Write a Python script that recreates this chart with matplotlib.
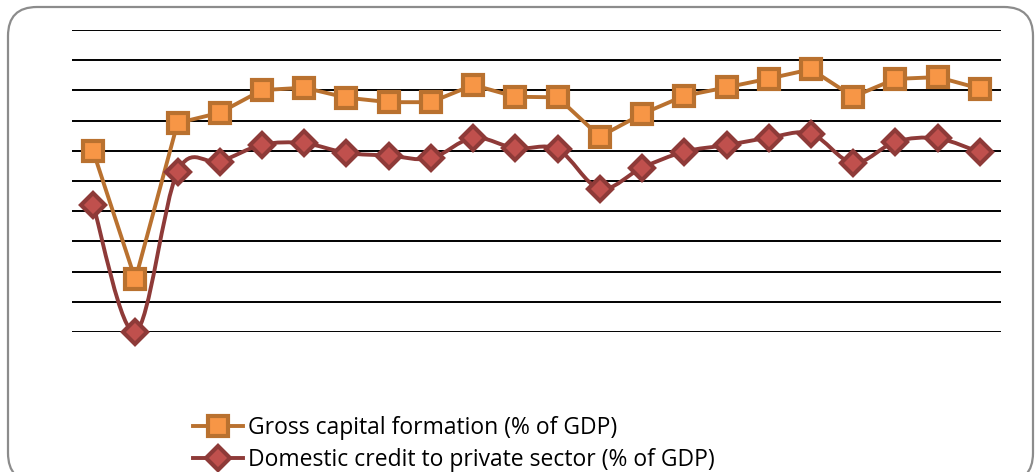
import numpy as np
import matplotlib.pyplot as plt
from matplotlib.path import Path
from matplotlib.patches import PathPatch, FancyBboxPatch
from matplotlib.lines import Line2D

# values (gridline units, no axis labels in the original)
gross_capital = [5.99, 1.74, 6.92, 7.26, 8.01, 8.09, 7.76, 7.61, 7.61, 8.18, 7.79,
                 7.77, 6.47, 7.22, 7.82, 8.10, 8.39, 8.70, 7.79, 8.38, 8.44, 8.06]
domestic_credit = [4.21, 0.0, 5.31, 5.64, 6.20, 6.25, 5.93, 5.84, 5.75, 6.43, 6.08,
                   6.05, 4.75, 5.44, 5.97, 6.19, 6.43, 6.57, 5.60, 6.30, 6.41, 5.95]
labels = ["Gross capital formation (% of GDP)",
          "Domestic credit to private sector (% of GDP)"]

or_line = '#B9712F'
or_fill = '#F79646'
rd_line = '#8E3A38'
rd_fill = '#C0504D'

plt.rcParams['font.family'] = ['Open Sans', 'DejaVu Sans']

W, H = 1035, 472
fig = plt.figure(figsize=(W / 100, H / 100), dpi=100)

# rounded chart border (bottom edge runs off the image)
border = FancyBboxPatch((8 / W, -10 / H), (1033 - 8) / W, (H + 10 - 7) / H,
                        boxstyle="round,pad=0,rounding_size=0.028",
                        transform=fig.transFigure, facecolor='none',
                        edgecolor='#8C8C8C', linewidth=1.6, mutation_aspect=W / H,
                        zorder=-1)
fig.patches.append(border)

ax = fig.add_axes([72 / W, (H - 332) / H, (1001 - 72) / W, (332 - 30) / H])
ax.set_facecolor('none')
x = np.arange(len(gross_capital))

# smoothed line (Excel style) for the credit series
def smooth_path(xs, ys):
    p = np.column_stack([xs, ys]).astype(float)
    verts = [p[0]]
    codes = [Path.MOVETO]
    n = len(p)
    for i in range(n - 1):
        p0 = p[i - 1] if i > 0 else p[i]
        p3 = p[i + 2] if i + 2 < n else p[i + 1]
        c1 = p[i] + (p[i + 1] - p0) / 6
        c2 = p[i + 1] - (p3 - p[i]) / 6
        verts += [c1, c2, p[i + 1]]
        codes += [Path.CURVE4] * 3
    return Path(verts, codes)

ax.plot(x, gross_capital, color=or_line, lw=2.8, marker='s', ms=14,
        mfc=or_fill, mec=or_line, mew=3, clip_on=False, zorder=3)
ax.add_patch(PathPatch(smooth_path(x, domestic_credit), facecolor='none',
                       edgecolor=rd_line, lw=2.8, zorder=3, clip_on=False))
ax.plot(x, domestic_credit, ls='none', marker='D', ms=12,
        mfc=rd_fill, mec=rd_line, mew=3, clip_on=False, zorder=4)

ax.set_xlim(-0.5, len(x) - 0.5)
ax.set_ylim(0, 10)
ax.set_yticks(range(11))
ax.set_xticks([])
ax.tick_params(left=False, labelleft=False)
ax.grid(axis='y', color='black', lw=1.4)
ax.set_axisbelow(True)
for s in ax.spines.values():
    s.set_visible(False)

handles = [
    Line2D([], [], color=or_line, lw=2.8, marker='s', ms=14, mfc=or_fill, mec=or_line, mew=3),
    Line2D([], [], color=rd_line, lw=2.8, marker='D', ms=12, mfc=rd_fill, mec=rd_line, mew=3),
]
fig.legend(handles, labels, loc='upper left', bbox_to_anchor=(193 / W, (H - 416) / H),
           frameon=False, fontsize=16.5, handlelength=2.2, handletextpad=0.2,
           labelspacing=0.37, borderaxespad=0, borderpad=0)

fig.savefig('out.png', dpi=100)
